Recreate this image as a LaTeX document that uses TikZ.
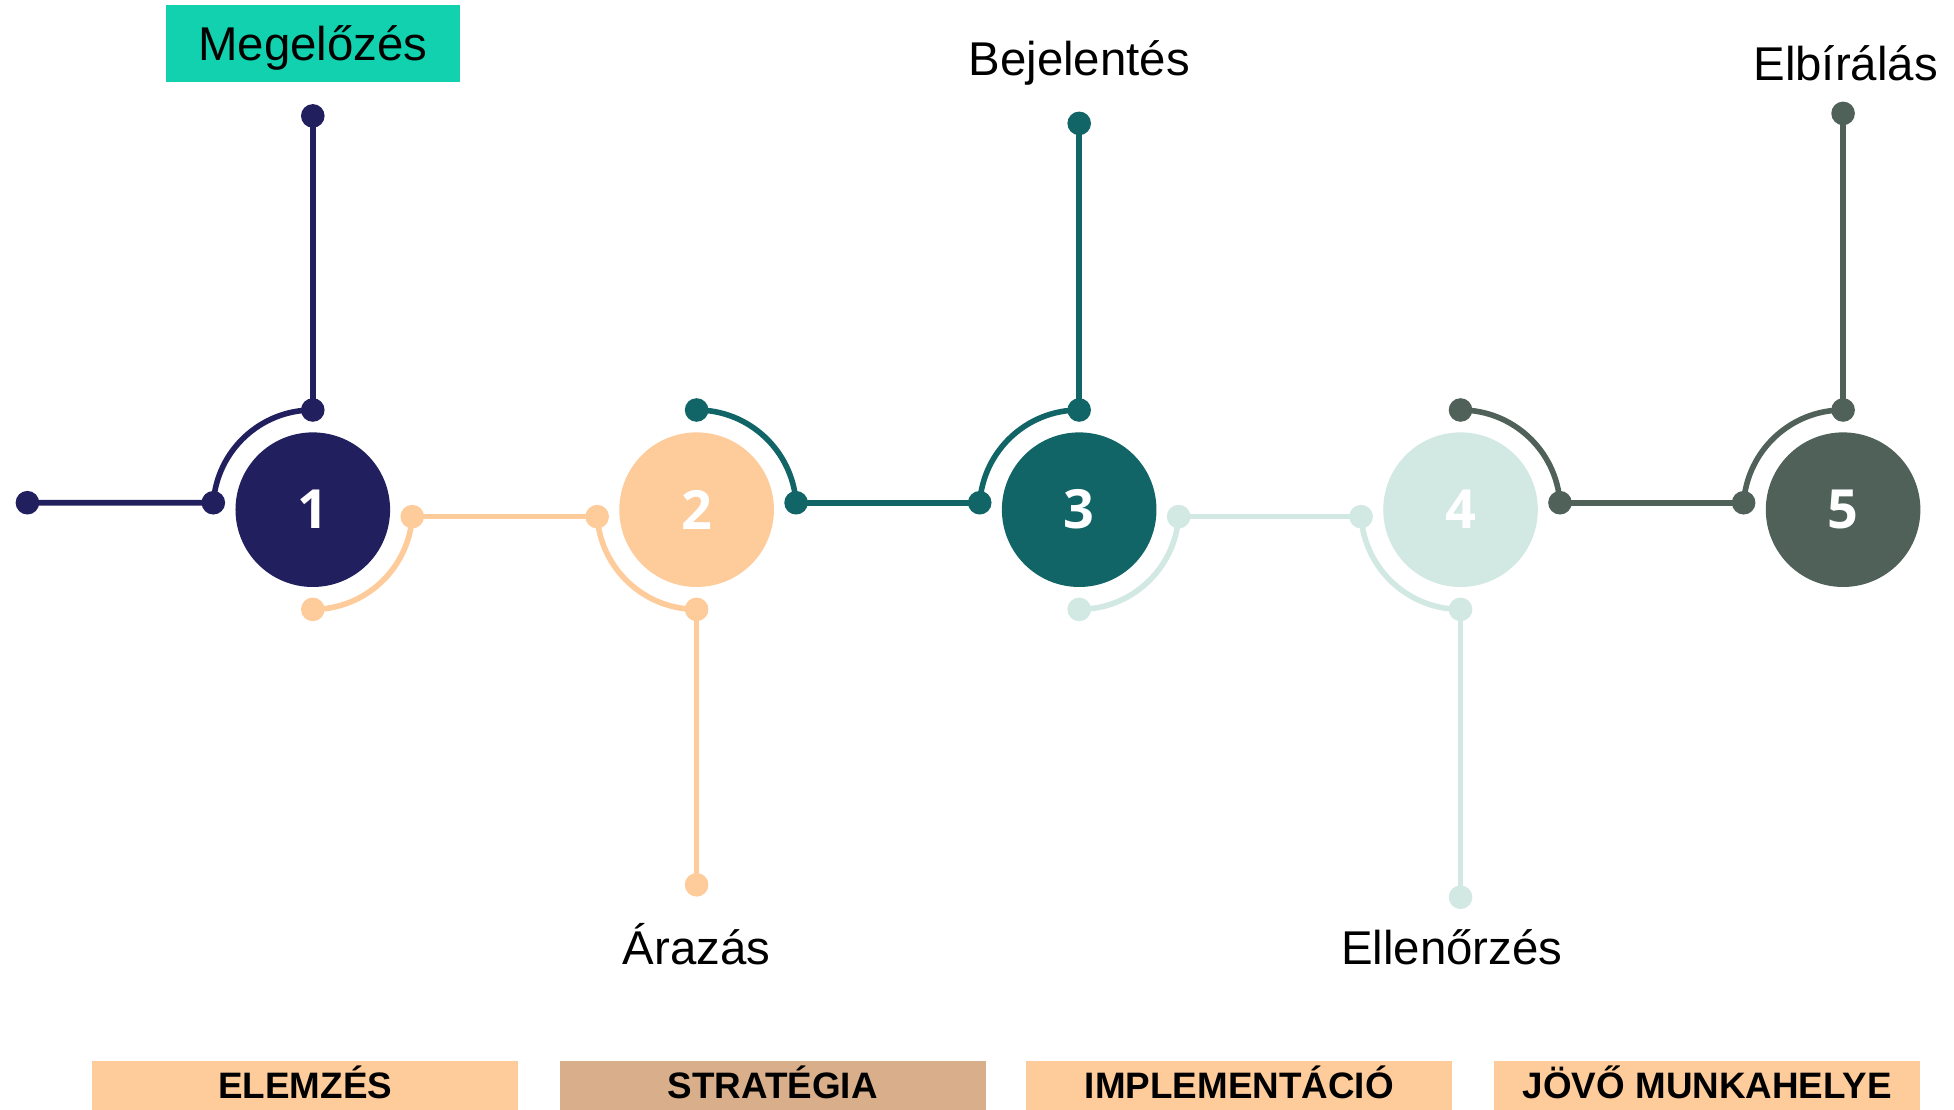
\documentclass[tikz,border=0pt]{standalone}
\usepackage{fontspec}
\setmainfont{Liberation Sans}
\newfontfamily\numfont{Open Sans}
\usetikzlibrary{calc}
\definecolor{cnavy}{HTML}{211F5E}
\definecolor{cpeach}{HTML}{FECB9B}
\definecolor{cteal}{HTML}{126567}
\definecolor{cmint}{HTML}{D2E8E2}
\definecolor{cgray}{HTML}{4F6159}
\definecolor{cmeg}{HTML}{11D1AE}
\definecolor{ctan}{HTML}{D8AF8A}
\tikzset{
  pdot/.style={circle, fill=#1, inner sep=0pt, minimum size=11.8pt},
  bigc/.style={circle, fill=#1, inner sep=0pt, minimum size=77.3pt, text=white,
    font=\numfont\bfseries\fontsize{27}{27}\selectfont},
  conn/.style={draw=#1, line width=2.8pt},
  lbl/.style={font=\fontsize{23.7}{26}\selectfont, text=black, inner sep=0pt,
    text height=17pt, text depth=0pt},
  phase/.style={fill=#1, inner sep=0pt, minimum width=213.1pt, minimum height=24.9pt,
    text height=13.2pt, text depth=0pt, font=\bfseries\fontsize{18.4}{20}\selectfont}
}
\begin{document}
\begin{tikzpicture}[x=0.6231pt,y=0.6231pt]
\useasboundingbox (0,0) rectangle (1568,-890);
% big circles
\node[bigc=cnavy]  (c1) at (251,-409) {1};
\node[bigc=cpeach] (c2) at (559,-409) {2};
\node[bigc=cteal]  (c3) at (866,-409) {3};
\node[bigc=cmint]  (c4) at (1172,-409) {4};
\node[bigc=cgray]  (c5) at (1479,-409) {5};

% navy
\node[pdot=cnavy] (n0) at (22,-403.4) {};
\node[pdot=cnavy] (n1) at ($(c1.center)+(176:80)$) {};
\node[pdot=cnavy] (n2) at ($(c1.center)+(90:80)$) {};
\node[pdot=cnavy] (n3) at (251,-93) {};
\draw[conn=cnavy] (n0.center) -- (n1.center);
\draw[conn=cnavy] (n2.center) arc[start angle=90, end angle=176, radius=80];
\draw[conn=cnavy] (n2.center) -- (n3.center);

% peach
\node[pdot=cpeach] (p1) at ($(c1.center)+(-4:80)$) {};
\node[pdot=cpeach] (p2) at ($(c1.center)+(-90:80)$) {};
\node[pdot=cpeach] (p3) at ($(c2.center)+(184:80)$) {};
\node[pdot=cpeach] (p4) at ($(c2.center)+(270:80)$) {};
\node[pdot=cpeach] (p5) at (559,-710) {};
\draw[conn=cpeach] (p1.center) arc[start angle=-4, end angle=-90, radius=80];
\draw[conn=cpeach] (p1.center) -- (p3.center);
\draw[conn=cpeach] (p3.center) arc[start angle=184, end angle=270, radius=80];
\draw[conn=cpeach] (p4.center) -- (p5.center);

% teal
\node[pdot=cteal] (t1) at ($(c2.center)+(90:80)$) {};
\node[pdot=cteal] (t2) at ($(c2.center)+(4:80)$) {};
\node[pdot=cteal] (t3) at ($(c3.center)+(176:80)$) {};
\node[pdot=cteal] (t4) at ($(c3.center)+(90:80)$) {};
\node[pdot=cteal] (t5) at (866,-99) {};
\draw[conn=cteal] (t1.center) arc[start angle=90, end angle=4, radius=80];
\draw[conn=cteal] (t2.center) -- (t3.center);
\draw[conn=cteal] (t3.center) arc[start angle=176, end angle=90, radius=80];
\draw[conn=cteal] (t4.center) -- (t5.center);

% mint
\node[pdot=cmint] (m1) at ($(c3.center)+(-4:80)$) {};
\node[pdot=cmint] (m2) at ($(c3.center)+(-90:80)$) {};
\node[pdot=cmint] (m3) at ($(c4.center)+(184:80)$) {};
\node[pdot=cmint] (m4) at ($(c4.center)+(270:80)$) {};
\node[pdot=cmint] (m5) at (1172,-720) {};
\draw[conn=cmint] (m1.center) arc[start angle=-4, end angle=-90, radius=80];
\draw[conn=cmint] (m1.center) -- (m3.center);
\draw[conn=cmint] (m3.center) arc[start angle=184, end angle=270, radius=80];
\draw[conn=cmint] (m4.center) -- (m5.center);

% gray
\node[pdot=cgray] (g1) at ($(c4.center)+(90:80)$) {};
\node[pdot=cgray] (g2) at ($(c4.center)+(4:80)$) {};
\node[pdot=cgray] (g3) at ($(c5.center)+(176:80)$) {};
\node[pdot=cgray] (g4) at ($(c5.center)+(90:80)$) {};
\node[pdot=cgray] (g5) at (1479,-91) {};
\draw[conn=cgray] (g1.center) arc[start angle=90, end angle=4, radius=80];
\draw[conn=cgray] (g2.center) -- (g3.center);
\draw[conn=cgray] (g3.center) arc[start angle=176, end angle=90, radius=80];
\draw[conn=cgray] (g4.center) -- (g5.center);

% labels
\node[lbl, fill=cmeg, minimum width=147pt, minimum height=38.6pt] (l1) at (251,-35) {Megelőzés};
\node[lbl] (l3) at (866,-47) {Bejelentés};
\node[lbl] (l5) at (1481,-51) {Elbírálás};
\node[lbl] (l2) at (559,-760) {Árazás};
\node[lbl] (l4) at (1165,-760) {Ellenőrzés};

% phase bars
\node[phase=cpeach] (b1) at (245,-871) {ELEMZÉS};
\node[phase=ctan]   (b2) at (620,-871) {STRATÉGIA};
\node[phase=cpeach] (b3) at (994.5,-871) {IMPLEMENTÁCIÓ};
\node[phase=cpeach] (b4) at (1370,-871) {JÖVŐ MUNKAHELYE};
\end{tikzpicture}
\end{document}
